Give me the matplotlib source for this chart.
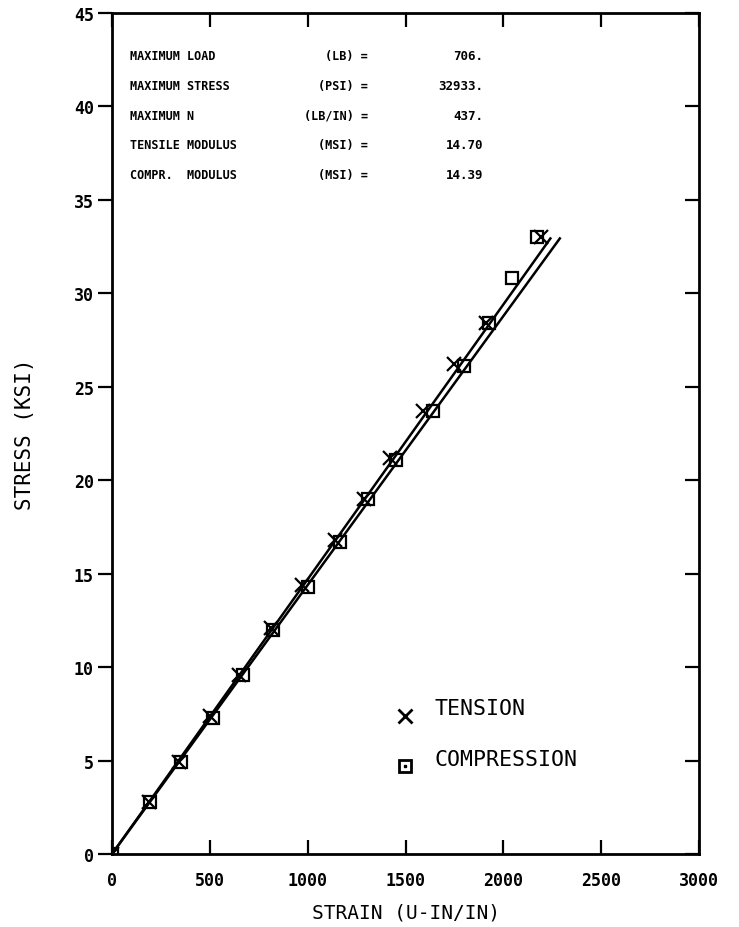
import matplotlib
matplotlib.use("Agg")
import matplotlib.pyplot as plt
from matplotlib import lines as mlines

# ---- data ----
tension_strain = [0, 190, 340, 500, 650, 810, 970, 1140, 1290, 1420, 1590, 1750, 1910, 2190]
tension_stress = [0.0, 2.8, 4.9, 7.4, 9.6, 12.1, 14.4, 16.8, 19.0, 21.2, 23.7, 26.2, 28.4, 33.0]
compr_strain = [0, 195, 350, 515, 670, 825, 1000, 1165, 1310, 1450, 1640, 1800, 1925, 2045, 2170]
compr_stress = [0.0, 2.8, 4.9, 7.3, 9.6, 12.0, 14.3, 16.7, 19.0, 21.1, 23.7, 26.1, 28.4, 30.8, 33.0]

info_names = ["MAXIMUM LOAD", "MAXIMUM STRESS", "MAXIMUM N", "TENSILE MODULUS", "COMPR.  MODULUS"]
info_units = ["(LB) =", "(PSI) =", "(LB/IN) =", "(MSI) =", "(MSI) ="]
info_values = ["706.", "32933.", "437.", "14.70", "14.39"]
tensile_modulus = 14.70   # ksi per 1000 microstrain
compr_modulus = 14.39
max_stress_ksi = 32.933

legend_labels = ["TENSION", "COMPRESSION"]

x_ticks = [0, 500, 1000, 1500, 2000, 2500, 3000]
y_ticks = [0, 5, 10, 15, 20, 25, 30, 35, 40, 45]

mono = "DejaVu Sans Mono"

fig = plt.figure(figsize=(7.39, 9.28), dpi=100)
ax = fig.add_axes([0.1516, 0.0787, 0.7943, 0.9063])

# fitted lines
t_end = max_stress_ksi / tensile_modulus * 1000
c_end = max_stress_ksi / compr_modulus * 1000
ax.plot([0, t_end], [0, max_stress_ksi], color="black", lw=1.8)
ax.plot([0, c_end], [0, max_stress_ksi], color="black", lw=1.8)

ax.plot(compr_strain, compr_stress, linestyle="none", marker="s", ms=9,
        mfc="none", mec="black", mew=1.6)
ax.plot(tension_strain, tension_stress, linestyle="none", marker="x", ms=10,
        color="black", mew=1.6)

ax.set_xlim(0, 3000)
ax.set_ylim(0, 45)
ax.set_xticks(x_ticks)
ax.set_yticks(y_ticks)
ax.set_xticklabels([str(v) for v in x_ticks], family=mono, fontsize=12, fontweight="bold")
ax.set_yticklabels([str(v) for v in y_ticks], family=mono, fontsize=12, fontweight="bold")
ax.tick_params(axis="y", left=True, right=True, direction="out", length=10, width=1.6, pad=3)
ax.tick_params(axis="x", bottom=True, top=True, direction="in", length=10, width=1.6, pad=12)
for sp in ax.spines.values():
    sp.set_linewidth(2.0)

# right ticks point inward
for t in ax.yaxis.get_major_ticks():
    t.tick2line.set_marker(mlines.TICKLEFT)

ax.set_xlabel("STRAIN (U-IN/IN)", family=mono, fontsize=14, labelpad=10)
ax.set_ylabel("STRESS (KSI)", family=mono, fontsize=15, labelpad=28)

# info block
for i, (nm, un, val) in enumerate(zip(info_names, info_units, info_values)):
    y = 0.949 - i * 0.0352
    ax.text(0.031, y, nm, transform=ax.transAxes, family=mono, fontsize=8.5,
            fontweight="bold", va="center", ha="left")
    ax.text(0.436, y, un, transform=ax.transAxes, family=mono, fontsize=8.5,
            fontweight="bold", va="center", ha="right")
    ax.text(0.632, y, val, transform=ax.transAxes, family=mono, fontsize=9,
            fontweight="bold", va="center", ha="right")

# legend
ax.plot([1497], [7.4], marker="x", ms=10, color="black", mew=2.0, linestyle="none")
ax.plot([1497], [4.7], marker="s", ms=9, mfc="none", mec="black", mew=2.0, linestyle="none")
ax.plot([1497], [4.7], marker="s", ms=2, color="black", linestyle="none")
ax.text(1650, 7.8, legend_labels[0], family=mono, fontsize=15.5, va="center")
ax.text(1650, 5.1, legend_labels[1], family=mono, fontsize=15.5, va="center")

fig.savefig("out.png", dpi=100)
